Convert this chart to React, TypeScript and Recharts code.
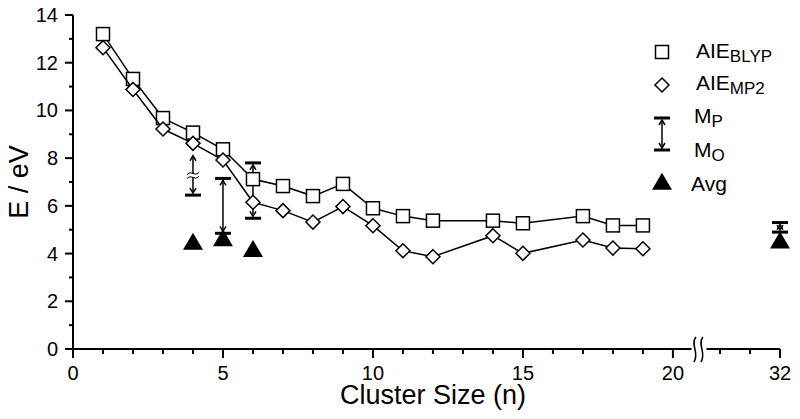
import React from "react";
import { ComposedChart, Scatter, XAxis, YAxis, ReferenceLine, ReferenceDot } from "recharts";

const FONT = '"Liberation Sans", Arial, Helvetica, sans-serif';

// cluster sizes and energies (eV)
const nAie = [1, 2, 3, 4, 5, 6, 7, 8, 9, 10, 11, 12, 14, 15, 17, 18, 19];
const aieBlyp = [13.2, 11.32, 9.68, 9.07, 8.37, 7.12, 6.83, 6.41, 6.92, 5.9, 5.57, 5.38, 5.38, 5.27, 5.57, 5.18, 5.18];
const aieMp2 = [12.63, 10.88, 9.22, 8.62, 7.92, 6.15, 5.8, 5.32, 5.97, 5.17, 4.12, 3.87, 4.75, 4.01, 4.57, 4.23, 4.2];

const nAvg = [4, 5, 6, 32];
const avgE = [4.4, 4.55, 4.1, 4.45];

// M_P (top) / M_O (bottom) range bars
const nM = [4, 5, 6, 32];
const mP = [8.1, 7.15, 7.8, 5.3];
const mO = [6.45, 4.85, 5.48, 4.9];
const mBroken = [true, false, false, false];

const xTickValues = [0, 1, 2, 3, 4, 5, 6, 7, 8, 9, 10, 11, 12, 13, 14, 15, 16, 17, 18, 19, 20, 30, 31, 32];
const xTickLabels = [0, 5, 10, 15, 20, 32];
const yTickValues = [0, 1, 2, 3, 4, 5, 6, 7, 8, 9, 10, 11, 12, 13, 14];

// axis break between 20 and 30
const SHIFT = 8.43;
const BREAK_AT = 20.85;
const toAxis = (n: number) => (n > 25 ? n - SHIFT : n);
const fromAxis = (v: number) => Math.round(v > BREAK_AT ? v + SHIFT : v);
const X_MAX = toAxis(32);

const blypData = nAie.map((n, i) => ({ x: toAxis(n), y: aieBlyp[i] }));
const mp2Data = nAie.map((n, i) => ({ x: toAxis(n), y: aieMp2[i] }));
const avgData = nAvg.map((n, i) => ({ x: toAxis(n), y: avgE[i] }));

const Square = ({ cx, cy }: any) => (
  <rect x={cx - 6.5} y={cy - 6.5} width={13} height={13} fill="#fff" stroke="#000" strokeWidth={1.5} />
);

const Diamond = ({ cx, cy }: any) => (
  <polygon
    points={`${cx},${cy - 7} ${cx + 7},${cy} ${cx},${cy + 7} ${cx - 7},${cy}`}
    fill="#fff"
    stroke="#000"
    strokeWidth={1.5}
  />
);

const Triangle = ({ cx, cy }: any) => (
  <polygon points={`${cx},${cy - 11.3} ${cx + 10},${cy + 5.7} ${cx - 10},${cy + 5.7}`} fill="#000" />
);

const MBar = ({ x1, y1, y2, broken }: any) => {
  const cx = x1;
  const top = Math.min(y1, y2);
  const bot = Math.max(y1, y2);
  const yt = broken ? top : top + 2;
  const yb = bot - 2;
  const mid = (top + bot) / 2;
  return (
    <g>
      {!broken && <line x1={cx - 8} x2={cx + 8} y1={top} y2={top} stroke="#000" strokeWidth={3} />}
      <line x1={cx - 8} x2={cx + 8} y1={bot} y2={bot} stroke="#000" strokeWidth={3} />
      <line x1={cx} x2={cx} y1={yt} y2={yb} stroke="#000" strokeWidth={1.5} />
      <polyline points={`${cx - 3},${yt + 5} ${cx},${yt} ${cx + 3},${yt + 5}`} fill="none" stroke="#000" strokeWidth={1.5} />
      <polyline points={`${cx - 3},${yb - 5} ${cx},${yb} ${cx + 3},${yb - 5}`} fill="none" stroke="#000" strokeWidth={1.5} />
      {broken && (
        <g>
          <rect x={cx - 6} y={mid - 1.5} width={12} height={3} fill="#fff" />
          <path d={`M${cx - 6},${mid - 1} Q${cx - 3},${mid - 4} ${cx},${mid - 2} Q${cx + 3},${mid} ${cx + 6},${mid - 3}`} fill="none" stroke="#000" strokeWidth={1} />
          <path d={`M${cx - 6},${mid + 3} Q${cx - 3},${mid} ${cx},${mid + 2} Q${cx + 3},${mid + 4} ${cx + 6},${mid + 1}`} fill="none" stroke="#000" strokeWidth={1} />
        </g>
      )}
    </g>
  );
};

const BreakMark = ({ cx, cy }: any) => (
  <g>
    <path d={`M${cx - 1},${cy - 12} C${cx - 7},${cy - 4} ${cx + 3},${cy + 4} ${cx - 3},${cy + 13}`} fill="none" stroke="#000" strokeWidth={1.5} />
    <path d={`M${cx + 6},${cy - 12} C${cx},${cy - 4} ${cx + 10},${cy + 4} ${cx + 4},${cy + 13}`} fill="none" stroke="#000" strokeWidth={1.5} />
  </g>
);

const XTick = ({ x, y, payload }: any) => {
  const label = fromAxis(payload.value);
  const major = xTickLabels.includes(label);
  return (
    <g>
      <line x1={x} x2={x} y1={y} y2={y + (major ? 9 : 5)} stroke="#000" strokeWidth={2} />
      {major && (
        <text x={x} y={y + 31} textAnchor="middle" fontSize={20} fontFamily={FONT} fill="#000">
          {label}
        </text>
      )}
    </g>
  );
};

const YTick = ({ x, y, payload }: any) => {
  const major = payload.value % 2 === 0;
  return (
    <g>
      <line x1={x - (major ? 8 : 4)} x2={x} y1={y} y2={y} stroke="#000" strokeWidth={2} />
      {major && (
        <text x={x - 15} y={y + 7} textAnchor="end" fontSize={20} fontFamily={FONT} fill="#000">
          {payload.value}
        </text>
      )}
    </g>
  );
};

const Sub = ({ x, y, main, sub }: any) => (
  <text x={x} y={y} fontSize={21} fontFamily={FONT} fill="#000">
    {main}
    <tspan fontSize={17} dy={4}>{sub}</tspan>
  </text>
);

export default function App() {
  return (
    <div style={{ margin: "-8px 0 0 -8px", width: 800, height: 411 }}>
      <ComposedChart width={800} height={411} margin={{ top: 15, right: 20, bottom: 12, left: 0 }}>
        <XAxis
          type="number"
          dataKey="x"
          domain={[0, X_MAX]}
          ticks={xTickValues.map(toAxis)}
          interval={0}
          tick={<XTick />}
          tickLine={false}
          tickSize={0}
          tickMargin={0}
          axisLine={false}
          height={50}
        />
        <YAxis
          type="number"
          dataKey="y"
          domain={[0, 14]}
          ticks={yTickValues}
          interval={0}
          tick={<YTick />}
          tickLine={false}
          tickSize={0}
          tickMargin={0}
          axisLine={{ stroke: "#000", strokeWidth: 2 }}
          width={73}
        />
        <ReferenceLine segment={[{ x: 0, y: 0 }, { x: 20.62, y: 0 }]} stroke="#000" strokeWidth={2} />
        <ReferenceLine segment={[{ x: 21.12, y: 0 }, { x: X_MAX, y: 0 }]} stroke="#000" strokeWidth={2} />
        <ReferenceDot x={BREAK_AT - 0.05} y={0} shape={(p: any) => <BreakMark {...p} />} />
        {nM.map((n, i) => (
          <ReferenceLine
            key={n}
            segment={[{ x: toAxis(n), y: mP[i] }, { x: toAxis(n), y: mO[i] }]}
            shape={(p: any) => <MBar {...p} broken={mBroken[i]} />}
          />
        ))}
        <Scatter
          data={blypData}
          line={{ stroke: "#000", strokeWidth: 1.5 }}
          shape={(p: any) => <Square {...p} />}
          isAnimationActive={false}
        />
        <Scatter
          data={mp2Data}
          line={{ stroke: "#000", strokeWidth: 1.5 }}
          shape={(p: any) => <Diamond {...p} />}
          isAnimationActive={false}
        />
        <Scatter data={avgData} shape={(p: any) => <Triangle {...p} />} isAnimationActive={false} />

        <text x={433} y={404} textAnchor="middle" fontSize={27} fontFamily={FONT} fill="#000">
          Cluster Size (n)
        </text>
        <text transform="translate(28,182) rotate(-90)" textAnchor="middle" fontSize={27} fontFamily={FONT} fill="#000">
          E / eV
        </text>

        <g>
          <Square cx={662} cy={52} />
          <Sub x={696} y={58} main="AIE" sub="BLYP" />
          <Diamond cx={662} cy={85} />
          <Sub x={696} y={90} main="AIE" sub="MP2" />
          <MBar x1={662} y1={118} x2={662} y2={150} broken={false} />
          <Sub x={694} y={123} main="M" sub="P" />
          <Sub x={694} y={157} main="M" sub="O" />
          <Triangle cx={662} cy={184} />
          <text x={691} y={191} fontSize={21} fontFamily={FONT} fill="#000">
            Avg
          </text>
        </g>
      </ComposedChart>
    </div>
  );
}
